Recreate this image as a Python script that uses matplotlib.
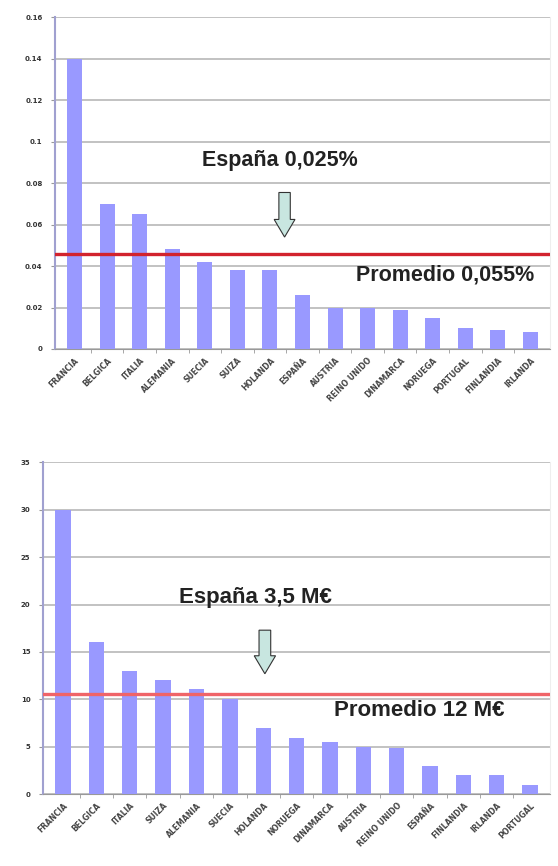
import numpy as np
import matplotlib
matplotlib.use("Agg")
import matplotlib.pyplot as plt
from matplotlib.patches import FancyArrow

# datos gráfico superior (% PIB)
paises_1 = ["FRANCIA", "BELGICA", "ITALIA", "ALEMANIA", "SUECIA", "SUIZA", "HOLANDA",
            "ESPAÑA", "AUSTRIA", "REINO UNIDO", "DINAMARCA", "NORUEGA", "PORTUGAL",
            "FINLANDIA", "IRLANDA"]
valores_1 = [0.14, 0.07, 0.065, 0.048, 0.042, 0.038, 0.038, 0.026, 0.02, 0.02,
             0.019, 0.015, 0.01, 0.009, 0.008]
promedio_1 = 0.046
yticks_1 = [0, 0.02, 0.04, 0.06, 0.08, 0.1, 0.12, 0.14, 0.16]
ylabels_1 = ["0", "0.02", "0.04", "0.06", "0.08", "0.1", "0.12", "0.14", "0.16"]

# datos gráfico inferior (M€)
paises_2 = ["FRANCIA", "BELGICA", "ITALIA", "SUIZA", "ALEMANIA", "SUECIA", "HOLANDA",
            "NORUEGA", "DINAMARCA", "AUSTRIA", "REINO UNIDO", "ESPAÑA", "FINLANDIA",
            "IRLANDA", "PORTUGAL"]
valores_2 = [30, 16, 13, 12, 11.1, 10, 7, 5.9, 5.5, 5, 4.9, 3, 2, 2, 1]
promedio_2 = 10.6
yticks_2 = [0, 5, 10, 15, 20, 25, 30, 35]

bar_color = "#9999ff"
grid_color = "#b8b8b8"
txt_font = ["Liberation Sans", "DejaVu Sans"]


def dibujar(ax, paises, valores, promedio, yticks, ylabels, ymax, linecolor):
    x = np.arange(len(paises))
    ax.bar(x, valores, width=0.46, color=bar_color, zorder=3)
    ax.axhline(promedio, color=linecolor, lw=2.4, zorder=4)
    ax.set_xlim(-0.6, len(paises) - 0.4)
    ax.set_ylim(0, ymax)
    ax.set_yticks(yticks)
    ax.set_yticklabels(ylabels, fontsize=5, fontweight="bold", color="#333333")
    ax.set_xticks(x)
    ax.set_xticklabels(paises, rotation=45, ha="right", rotation_mode="anchor",
                       fontsize=5.5, fontweight="bold", color="#444444")
    ax.tick_params(axis="x", length=0, pad=5)
    ax.set_xticks(x[:-1] + 0.5, minor=True)
    ax.tick_params(axis="x", which="minor", length=3, color="#999999")
    ax.tick_params(axis="y", length=3, color="#999999", pad=6)
    ax.yaxis.grid(True, color=grid_color, lw=1.2, zorder=0)
    ax.spines["top"].set_visible(False)
    ax.spines["right"].set_color("#eeeeee")
    ax.spines["left"].set_color("#a0a0d0")
    ax.spines["left"].set_linewidth(1.5)
    ax.spines["bottom"].set_color("#999999")


fig = plt.figure(figsize=(5.58, 8.66), dpi=100)

ax1 = fig.add_axes([0.0986, 0.597, 0.887, 0.383])
dibujar(ax1, paises_1, valores_1, promedio_1, yticks_1, ylabels_1, 0.16, "#d2232e")
ax1.text(6.3, 0.091, "España 0,025%", fontsize=15.5, fontweight="bold",
         family=txt_font, ha="center", va="center", color="#222222")
ax1.text(8.64, 0.0357, "Promedio 0,055%", fontsize=15.5, fontweight="bold",
         family=txt_font, ha="left", va="center", color="#222222")
ax1.add_patch(FancyArrow(6.45, 0.0755, 0, -0.0215, width=0.35, head_width=0.64,
                         head_length=0.0085, length_includes_head=True,
                         facecolor="#c8e6e0", edgecolor="#333333", lw=0.8, zorder=5))

ax2 = fig.add_axes([0.077, 0.083, 0.909, 0.383])
dibujar(ax2, paises_2, valores_2, promedio_2, yticks_2,
        [str(v) for v in yticks_2], 35, "#f06468")
ax2.text(5.76, 20.7, "España 3,5 M€", fontsize=16, fontweight="bold",
         family=txt_font, ha="center", va="center", color="#222222")
ax2.text(8.13, 8.84, "Promedio 12 M€", fontsize=16, fontweight="bold",
         family=txt_font, ha="left", va="center", color="#222222")
ax2.add_patch(FancyArrow(6.05, 17.3, 0, -4.6, width=0.35, head_width=0.64,
                         head_length=1.9, length_includes_head=True,
                         facecolor="#c8e6e0", edgecolor="#333333", lw=0.8, zorder=5))

fig.savefig("out.png", dpi=100)
